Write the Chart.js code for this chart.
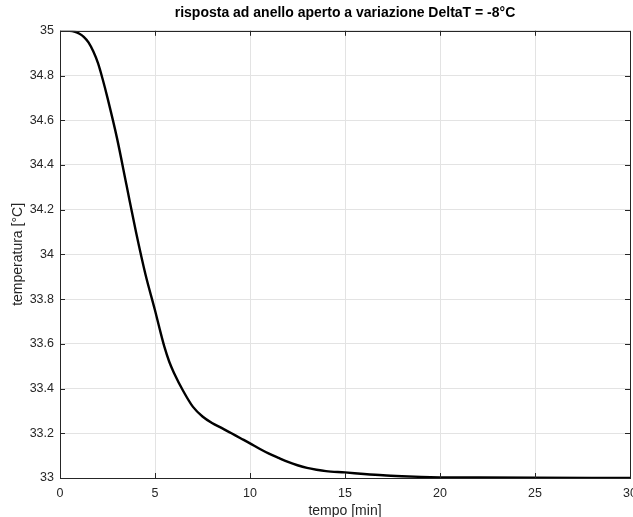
<!DOCTYPE html>
<html>
<head>
<meta charset="utf-8">
<script src="https://cdn.jsdelivr.net/npm/chart.js@4/dist/chart.umd.min.js"></script>
<style>
  html, body { margin: 0; padding: 0; background: #fff; }
  canvas { display: block; }
</style>
</head>
<body>
<canvas id="chart" width="633" height="517"></canvas>
<script>
// tempo [min]
const tempo = [0, 0.5, 0.75, 1, 1.25, 1.5, 1.75, 2, 2.25, 2.5, 3, 3.5, 4, 4.5, 5, 5.25, 5.5, 5.75, 6, 6.5, 7, 7.5, 8,
    8.5, 9, 9.5, 10, 10.5, 11, 11.5, 12, 12.5, 13, 13.5, 14, 15, 16, 17, 18, 19, 20, 22, 25, 30];
// temperatura [°C]
const temperatura = [35.0, 34.9995, 34.997, 34.988, 34.973, 34.948, 34.908, 34.855, 34.782, 34.70, 34.52,
    34.31, 34.10, 33.91, 33.75, 33.665, 33.585, 33.52, 33.47, 33.387, 33.318, 33.275, 33.246,
    33.224, 33.201, 33.178, 33.155, 33.131, 33.109, 33.09, 33.072, 33.057, 33.045, 33.037,
    33.031, 33.025, 33.018, 33.012, 33.008, 33.005, 33.003, 33.002, 33.001, 33.0];

const xTicks = [0, 5, 10, 15, 20, 25, 30];
const yTicks = [33, 33.2, 33.4, 33.6, 33.8, 34, 34.2, 34.4, 34.6, 34.8, 35];

const titleText = 'risposta ad anello aperto a variazione DeltaT = -8°C';
const xLabel = 'tempo [min]';
const yLabel = 'temperatura [°C]';

const axisColor = '#262626';
const gridColor = '#e3e3e3';
const fontFamily = '"Liberation Sans", Arial, Helvetica, sans-serif';

// MATLAB-like box with inward ticks, title centred over the axes
const boxPlugin = {
    id: 'box',
    afterLayout(chart) {
        if (chart.titleBlock) {
            chart.titleBlock.left = chart.chartArea.left;
            chart.titleBlock.right = chart.chartArea.right;
        }
    },
    afterDraw(chart) {
        const { ctx, chartArea: a, scales } = chart;
        ctx.save();
        ctx.strokeStyle = axisColor;
        ctx.lineWidth = 1;
        ctx.beginPath();
        xTicks.forEach(v => {
            const px = Math.round(scales.x.getPixelForValue(v)) + 0.5;
            ctx.moveTo(px, a.bottom); ctx.lineTo(px, a.bottom - 5);
            ctx.moveTo(px, a.top); ctx.lineTo(px, a.top + 5);
        });
        yTicks.forEach(v => {
            const py = Math.round(scales.y.getPixelForValue(v)) + 0.5;
            ctx.moveTo(a.left, py); ctx.lineTo(a.left + 5, py);
            ctx.moveTo(a.right, py); ctx.lineTo(a.right - 5, py);
        });
        ctx.stroke();
        ctx.strokeRect(Math.round(a.left) + 0.5, Math.round(a.top) + 0.5,
            Math.round(a.right - a.left), Math.round(a.bottom - a.top));
        ctx.restore();
    }
};

new Chart(document.getElementById('chart').getContext('2d'), {
    type: 'line',
    data: {
        datasets: [{
            data: tempo.map((t, i) => ({ x: t, y: temperatura[i] })),
            borderColor: '#000',
            borderWidth: 2.4,
            pointRadius: 0,
            fill: false,
            cubicInterpolationMode: 'monotone'
        }]
    },
    options: {
        responsive: false,
        animation: false,
        devicePixelRatio: 1,
        layout: { padding: { left: 0, right: 3, top: 0, bottom: 0 } },
        plugins: {
            legend: { display: false },
            tooltip: { enabled: false },
            title: {
                display: true,
                text: titleText,
                color: '#000',
                font: { family: fontFamily, size: 14, weight: 'bold' },
                padding: { top: 5, bottom: 9 }
            }
        },
        scales: {
            x: {
                type: 'linear',
                min: 0, max: 30,
                afterBuildTicks: s => { s.ticks = xTicks.map(v => ({ value: v })); },
                afterFit: s => { s.height = 39; s.paddingLeft = 0; s.paddingRight = 0; },
                grid: { color: gridColor, drawTicks: false },
                border: { display: false },
                ticks: {
                    color: axisColor,
                    padding: 8,
                    maxRotation: 0,
                    font: { family: fontFamily, size: 12.5 }
                },
                title: {
                    display: true,
                    text: xLabel,
                    color: axisColor,
                    font: { family: fontFamily, size: 14 },
                    padding: { top: 0, bottom: -3 }
                }
            },
            y: {
                type: 'linear',
                min: 33, max: 35,
                afterBuildTicks: s => { s.ticks = yTicks.map(v => ({ value: v })); },
                afterFit: s => { s.width = 60; s.paddingTop = 0; s.paddingBottom = 0; },
                grid: { color: gridColor, drawTicks: false },
                border: { display: false },
                ticks: {
                    color: axisColor,
                    padding: 6,
                    font: { family: fontFamily, size: 12.5 },
                    callback: v => String(Number(v.toFixed(1)))
                },
                title: {
                    display: true,
                    text: yLabel,
                    color: axisColor,
                    font: { family: fontFamily, size: 14 },
                    padding: { top: 10, bottom: 0 }
                }
            }
        }
    },
    plugins: [boxPlugin]
});
</script>
</body>
</html>
